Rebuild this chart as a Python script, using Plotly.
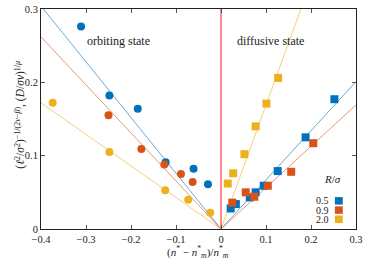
import plotly.graph_objects as go

# ---- data ----
labels = ["0.5", "0.9", "2.0"]
colors = ["#0072BD", "#D95319", "#EDB120"]

# orbiting state (circles)
orb_x_05 = [-0.311, -0.248, -0.185, -0.123, -0.061, -0.029]
orb_y_05 = [0.276, 0.182, 0.164, 0.091, 0.082, 0.061]
orb_x_09 = [-0.250, -0.177, -0.126, -0.089, -0.063]
orb_y_09 = [0.155, 0.109, 0.088, 0.075, 0.064]
orb_x_20 = [-0.374, -0.248, -0.124, -0.073, -0.024]
orb_y_20 = [0.172, 0.105, 0.053, 0.040, 0.022]

# diffusive state (squares)
dif_x_05 = [0.0215, 0.033, 0.064, 0.077, 0.095, 0.126, 0.188, 0.252]
dif_y_05 = [0.028, 0.034, 0.043, 0.050, 0.059, 0.079, 0.125, 0.177]
dif_x_09 = [0.025, 0.055, 0.074, 0.104, 0.156, 0.205]
dif_y_09 = [0.036, 0.050, 0.044, 0.059, 0.078, 0.117]
dif_x_20 = [0.015, 0.027, 0.052, 0.077, 0.101, 0.127]
dif_y_20 = [0.062, 0.076, 0.102, 0.140, 0.171, 0.206]

# fitted slopes through the origin
slope_left = [-0.76, -0.655, -0.43]
slope_right = [0.67, 0.564, 1.69]

x_ticks = [-0.4, -0.3, -0.2, -0.1, 0, 0.1, 0.2, 0.3]
y_ticks = [0, 0.1, 0.2, 0.3]
XR = [-0.4, 0.3]
YR = [0, 0.3]

orb = [(orb_x_05, orb_y_05), (orb_x_09, orb_y_09), (orb_x_20, orb_y_20)]
dif = [(dif_x_05, dif_y_05), (dif_x_09, dif_y_09), (dif_x_20, dif_y_20)]

FONT = "Liberation Serif"
TXT = "#222"
fig = go.Figure()

# fit lines
for i in range(3):
    xl = [XR[0], 0]
    yl = [slope_left[i] * XR[0], 0]
    xr = [0, XR[1]]
    yr = [0, slope_right[i] * XR[1]]
    for xs, ys in [(xl, yl), (xr, yr)]:
        fig.add_trace(go.Scatter(x=xs, y=ys, mode="lines",
                                 line=dict(color=colors[i], width=0.8),
                                 opacity=0.75, showlegend=False, hoverinfo="skip"))

# red separator
fig.add_trace(go.Scatter(x=[0, 0], y=YR, mode="lines",
                         line=dict(color="#FF6B6B", width=1.6),
                         showlegend=False, hoverinfo="skip"))

for i in range(3):
    fig.add_trace(go.Scatter(x=orb[i][0], y=orb[i][1], mode="markers",
                             marker=dict(symbol="circle", size=8, color=colors[i],
                                         line=dict(width=0)),
                             showlegend=False, cliponaxis=False))
    fig.add_trace(go.Scatter(x=dif[i][0], y=dif[i][1], mode="markers",
                             marker=dict(symbol="square", size=8, color=colors[i],
                                         line=dict(width=0)),
                             showlegend=False, cliponaxis=False))

annots = [
    dict(x=-0.227, y=0.256, text="orbiting state", showarrow=False,
         font=dict(family=FONT, size=12, color=TXT)),
    dict(x=0.109, y=0.256, text="diffusive state", showarrow=False,
         font=dict(family=FONT, size=12, color=TXT)),
    dict(xref="paper", yref="paper", x=0.958, y=0.19, text="<i>R</i>/<i>σ</i>",
         showarrow=False, xanchor="right", font=dict(family=FONT, size=11, color=TXT)),
    # axis titles
    dict(xref="paper", yref="paper", x=0.498, y=-0.105, yanchor="middle",
         text="(<i>n</i><sup>*</sup> − <i>n</i><sup>*</sup><sub><i>m</i></sub>)/<i>n</i><sup>*</sup><sub><i>m</i></sub>",
         showarrow=False, font=dict(family=FONT, size=11, color=TXT)),
    dict(xref="paper", yref="paper", x=-0.098, y=0.518, textangle=-90,
         text="(<i>ℓ</i><sup>2</sup>/<i>σ</i><sup>2</sup>)<sup>−1/(2<i>ν</i>−<i>β</i>)</sup>, (<i>D</i>/<i>σv</i>)<sup>1/<i>μ</i></sup>",
         showarrow=False, font=dict(family=FONT, size=11.5, color=TXT)),
]
shapes = []
leg_y = [0.128, 0.086, 0.044]
for i in range(3):
    annots.append(dict(xref="paper", yref="paper", x=0.92, y=leg_y[i], text=labels[i],
                       showarrow=False, xanchor="right", yanchor="middle",
                       font=dict(family=FONT, size=10, color=TXT)))
    shapes.append(dict(type="rect", xref="paper", yref="paper",
                       x0=0.933, x1=0.958, y0=leg_y[i] - 0.017, y1=leg_y[i] + 0.017,
                       fillcolor=colors[i], line=dict(width=0)))

fig.update_layout(
    width=372, height=261,
    margin=dict(l=41, r=16, t=9, b=32, autoexpand=False),
    plot_bgcolor="white", paper_bgcolor="white",
    font=dict(family=FONT, size=10.5, color=TXT),
    annotations=annots, shapes=shapes,
    xaxis=dict(range=XR, tickvals=x_ticks, ticks="inside", ticklen=4, tickcolor="#555",
               showgrid=False, zeroline=False, showline=True, linecolor="#222",
               linewidth=1, mirror="ticks", automargin=False),
    yaxis=dict(range=YR, tickvals=y_ticks, ticks="inside", ticklen=4, tickcolor="#555",
               showgrid=False, zeroline=False, showline=True, linecolor="#222",
               linewidth=1, mirror="ticks", automargin=False),
)

fig.write_html("out.html", config={"displayModeBar": False},
               post_script="document.body.style.margin='0';")
